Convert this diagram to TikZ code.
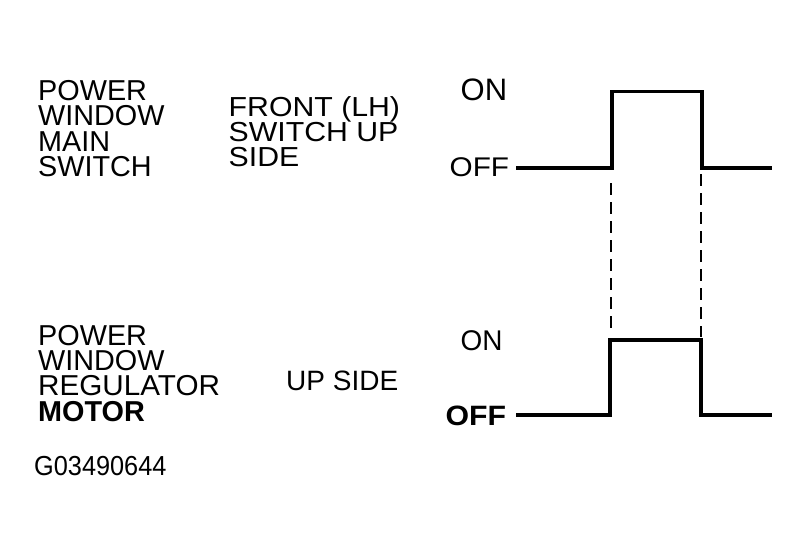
\documentclass[tikz,border=0pt]{standalone}
\usepackage{fontspec}
\setmainfont{Liberation Sans}
\newcommand{\stxt}[3]{\fontsize{#1}{#1}\selectfont\scalebox{#2}[1]{#3}}
\begin{document}
\begin{tikzpicture}[x=1pt,y=-1pt,
  lbl/.style={anchor=base west,inner sep=0pt},
  block/.style={anchor=base west,inner sep=0pt,align=left},
  wave/.style={line width=3.5pt,line join=miter},
  guide/.style={line width=2.2pt,dash pattern=on 12pt off 7pt}]
\useasboundingbox (0,0) rectangle (811,550);
% left label, top (anchored at the baseline of its last line)
\node[block,font=\fontsize{28.8}{25.5}\selectfont] (mainsw) at (38,176.5)
  {POWER\\WINDOW\\MAIN\\SWITCH};
\node[block,font=\fontsize{27.5}{24.9}\selectfont] (front) at (228.5,166.5)
  {\scalebox{1.1}[1]{FRONT (LH)}\\\scalebox{1.1}[1]{SWITCH UP}\\\scalebox{1.1}[1]{SIDE}};
% left label, bottom
\node[block,font=\fontsize{28.8}{25.3}\selectfont] (motor) at (38,421)
  {POWER\\WINDOW\\\scalebox{1.03}[1]{REGULATOR}\\\textbf{MOTOR}};
\node[lbl] (u1) at (286,390) {\stxt{28}{1.0}{UP SIDE}};
\node[lbl] (g1) at (34,475) {\stxt{27.5}{0.92}{G03490644}};
% level labels
\node[lbl] (on1) at (460.5,100.7) {\stxt{31}{1.0}{ON}};
\node[lbl] (off1) at (449.5,176.7) {\stxt{27}{1.1}{OFF}};
\node[lbl] (on2) at (460.5,350.7) {\stxt{28.5}{0.98}{ON}};
\node[lbl] (off2) at (445.5,425) {\bfseries\stxt{28}{1.08}{OFF}};
% top waveform
\coordinate (t1) at (516,168);
\coordinate (t2) at (612,168);
\coordinate (t3) at (612,91.5);
\coordinate (t4) at (702,91.5);
\coordinate (t5) at (702,168);
\coordinate (t6) at (772,168);
\draw[wave] (t1) -- (t2) -- (t3) -- (t4) -- (t5) -- (t6);
% bottom waveform
\coordinate (b1) at (516,415);
\coordinate (b2) at (610,415);
\coordinate (b3) at (610,340);
\coordinate (b4) at (701,340);
\coordinate (b5) at (701,415);
\coordinate (b6) at (772,415);
\draw[wave] (b1) -- (b2) -- (b3) -- (b4) -- (b5) -- (b6);
% dashed guides
\coordinate (d1) at (611,183);
\coordinate (d2) at (611,329);
\coordinate (d3) at (701,174);
\coordinate (d4) at (701,337);
\draw[guide] (d1) -- (d2);
\draw[guide] (d3) -- (d4);
\end{tikzpicture}
\end{document}
